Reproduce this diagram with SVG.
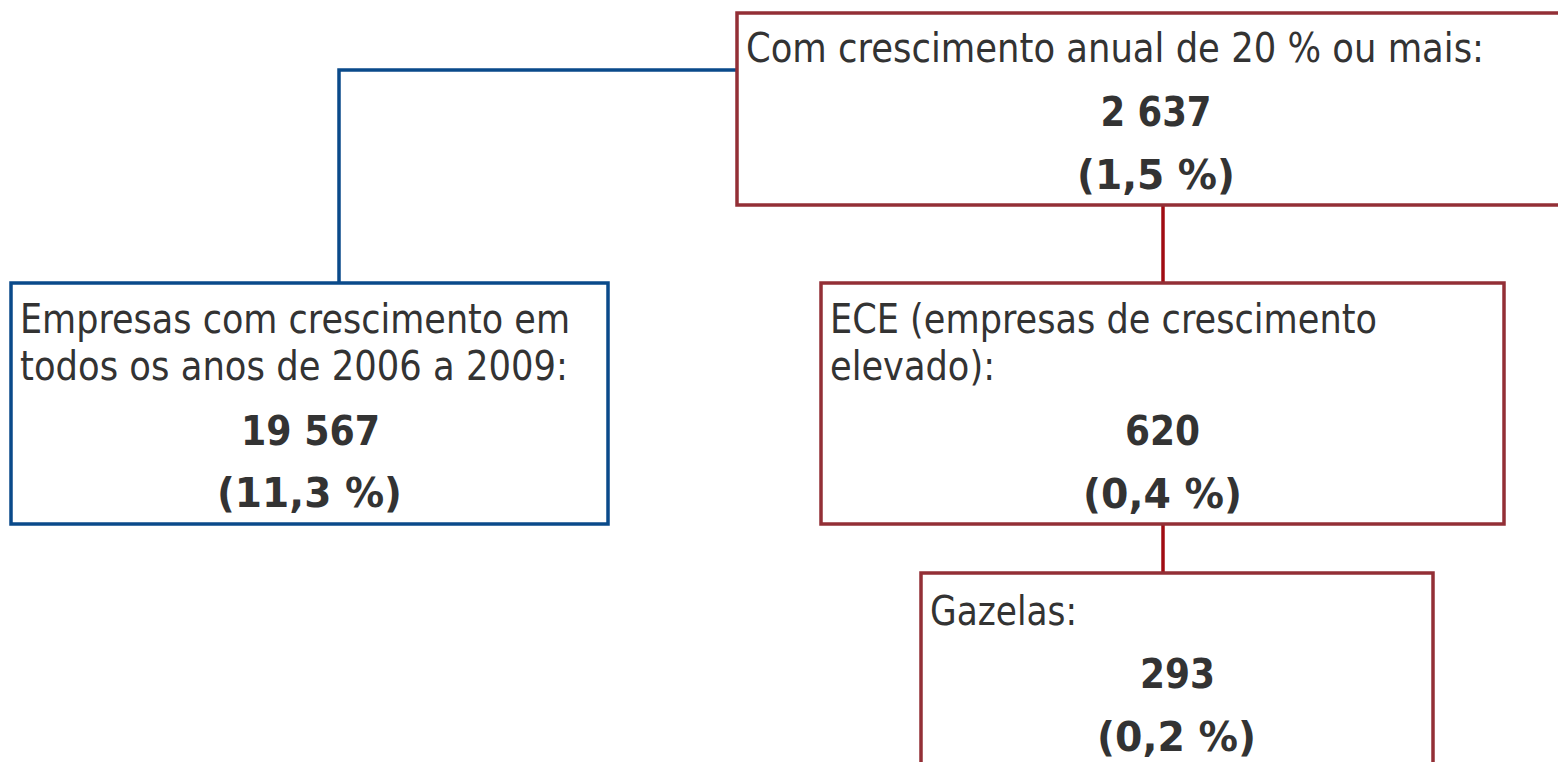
<svg xmlns="http://www.w3.org/2000/svg" width="1558" height="762" viewBox="0 0 1558 762">
<style>
.box{fill:#ffffff;stroke-width:3.5}
.red{stroke:#932f36}
.blue{stroke:#0a4a8a}
.t{font-family:"DejaVu Sans",Verdana,sans-serif;font-size:40px;fill:#333333}
.b{font-weight:bold;text-anchor:middle}
.conn{fill:none;stroke-width:3.5}
</style>
<rect width="1558" height="762" fill="#ffffff"/>
<g id="connectors">
<polyline class="conn blue" points="339,283 339,70 737,70"/>
<line class="conn" stroke="#a00c12" x1="1163" y1="206" x2="1163" y2="283"/>
<line class="conn" stroke="#a00c12" x1="1163" y1="524" x2="1163" y2="573"/>
</g>
<g id="node-top">
<rect class="box red" x="737" y="13" width="840" height="192"/>
<text class="t" x="746" y="62" textLength="738" lengthAdjust="spacingAndGlyphs">Com crescimento anual de 20 % ou mais:</text>
<text class="t b" x="1156" y="126" textLength="111" lengthAdjust="spacingAndGlyphs">2 637</text>
<text class="t b" x="1156" y="189" textLength="158" lengthAdjust="spacingAndGlyphs">(1,5 %)</text>
</g>
<g id="node-left">
<rect class="box blue" x="11" y="283" width="597" height="241"/>
<text class="t" x="20" y="333" textLength="550" lengthAdjust="spacingAndGlyphs">Empresas com crescimento em</text>
<text class="t" x="20" y="380" textLength="548" lengthAdjust="spacingAndGlyphs">todos os anos de 2006 a 2009:</text>
<text class="t b" x="310.5" y="445" textLength="139" lengthAdjust="spacingAndGlyphs">19 567</text>
<text class="t b" x="309.5" y="507" textLength="185" lengthAdjust="spacingAndGlyphs">(11,3 %)</text>
</g>
<g id="node-ece">
<rect class="box red" x="821" y="283" width="683" height="241"/>
<text class="t" x="830" y="333" textLength="547" lengthAdjust="spacingAndGlyphs">ECE (empresas de crescimento</text>
<text class="t" x="830" y="380" textLength="165" lengthAdjust="spacingAndGlyphs">elevado):</text>
<text class="t b" x="1162.5" y="445" textLength="75" lengthAdjust="spacingAndGlyphs">620</text>
<text class="t b" x="1162.5" y="508" textLength="159" lengthAdjust="spacingAndGlyphs">(0,4 %)</text>
</g>
<g id="node-gazelas">
<rect class="box red" x="921" y="573" width="512" height="210"/>
<text class="t" x="930" y="625" textLength="147" lengthAdjust="spacingAndGlyphs">Gazelas:</text>
<text class="t b" x="1177.5" y="688" textLength="75" lengthAdjust="spacingAndGlyphs">293</text>
<text class="t b" x="1176.5" y="751" textLength="159" lengthAdjust="spacingAndGlyphs">(0,2 %)</text>
</g>
</svg>
